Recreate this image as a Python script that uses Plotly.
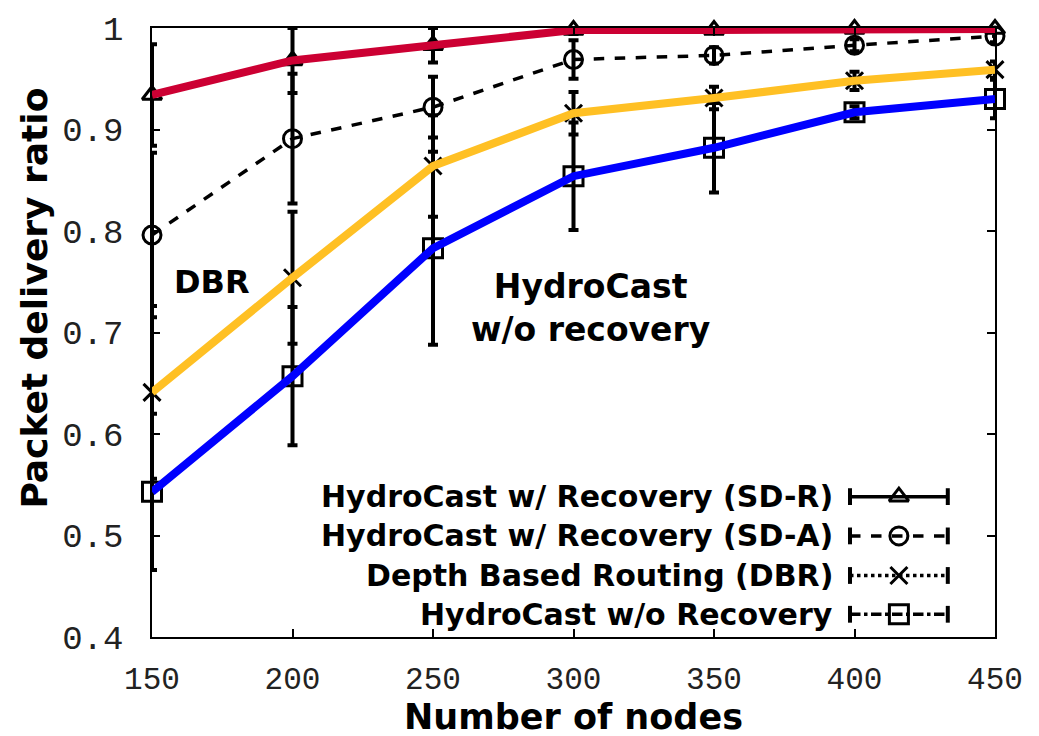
import plotly.graph_objects as go

# ---------------- data ----------------
nodes = [150, 200, 250, 300, 350, 400, 450]

sd_r = [0.934, 0.968, 0.983, 0.998, 0.998, 0.999, 0.999]
sd_r_err = [0.050, 0.032, 0.017, 0.004, 0.003, 0.002, 0.002]

sd_a = [0.796, 0.891, 0.922, 0.969, 0.973, 0.983, 0.992]
sd_a_err = [0.081, 0.064, 0.030, 0.019, 0.008, 0.006, 0.006]

dbr = [0.641, 0.754, 0.864, 0.916, 0.931, 0.948, 0.959]
dbr_err = [0.085, 0.065, 0.050, 0.021, 0.011, 0.009, 0.008]

wo = [0.543, 0.657, 0.783, 0.854, 0.882, 0.917, 0.930]
wo_err = [0.077, 0.068, 0.095, 0.053, 0.044, 0.006, 0.019]

series_names = ["HydroCast w/ Recovery (SD-R)", "HydroCast w/ Recovery (SD-A)",
                "Depth Based Routing (DBR)", "HydroCast w/o Recovery"]

y_tickvals = [0.4, 0.5, 0.6, 0.7, 0.8, 0.9, 1.0]
y_ticktext = ["0.4", "0.5", "0.6", "0.7", "0.8", "0.9", "1"]
x_tickvals = [150, 200, 250, 300, 350, 400, 450]

# ---------------- styles ----------------
BOLD = "DejaVu Sans"
MONO = "Liberation Mono"
styles = [
    dict(y=sd_r, e=sd_r_err, dash="solid", sym="triangle-up-open", size=17),
    dict(y=sd_a, e=sd_a_err, dash="dash", sym="circle-open", size=18),
    dict(y=dbr, e=dbr_err, dash="dot", sym="x-thin-open", size=17),
    dict(y=wo, e=wo_err, dash="dashdot", sym="square-open", size=19),
]

fig = go.Figure()

# black gnuplot-like series with error bars
for st, name in zip(styles, series_names):
    fig.add_trace(go.Scatter(
        x=nodes, y=st["y"], name=name, mode="lines+markers",
        line=dict(color="black", width=3.5, dash=st["dash"]),
        marker=dict(symbol=st["sym"], size=st["size"], color="black",
                    line=dict(color="black", width=3)),
        error_y=dict(type="data", array=st["e"], visible=True,
                     color="black", thickness=4, width=5),
        cliponaxis=False, showlegend=False,
    ))

# coloured overlay lines
overlay = [(sd_r, "#CC0033"), (dbr, "#FFC024"), (wo, "#0000FF")]
for yv, col in overlay:
    fig.add_trace(go.Scatter(
        x=nodes, y=yv, mode="lines", line=dict(color=col, width=8),
        cliponaxis=False, showlegend=False, hoverinfo="skip",
    ))

# ---------------- custom legend (right-side samples) ----------------
leg_rows = [0.2305, 0.166, 0.101, 0.0373]
lx0, lx1, lxm = 0.828, 0.944, 0.886
for st, name, ly in zip(styles, series_names, leg_rows):
    fig.add_trace(go.Scatter(
        x=[lx0, lx1], y=[ly, ly], xaxis="x2", yaxis="y2", mode="lines+markers",
        line=dict(color="black", width=3.5, dash=st["dash"]),
        marker=dict(symbol="line-ns", size=12, line=dict(color="black", width=4)),
        showlegend=False, hoverinfo="skip", cliponaxis=False,
    ))
    fig.add_trace(go.Scatter(
        x=[lxm], y=[ly], xaxis="x2", yaxis="y2", mode="markers",
        marker=dict(symbol=st["sym"], size=st["size"], color="black",
                    line=dict(color="black", width=3)),
        showlegend=False, hoverinfo="skip", cliponaxis=False,
    ))
    fig.add_annotation(
        text=name, xref="paper", yref="paper", x=0.810, y=ly,
        xanchor="right", yanchor="middle", showarrow=False,
        font=dict(family=BOLD, size=30, color="black", weight="bold"),
    )

# ---------------- labels ----------------
fig.add_annotation(text="Packet delivery ratio", xref="paper", yref="paper",
                   x=-0.139, y=0.557, textangle=-90, showarrow=False,
                   xanchor="center", yanchor="middle",
                   font=dict(family=BOLD, size=36, color="black", weight="bold"))
fig.add_annotation(text="Number of nodes", xref="paper", yref="paper",
                   x=0.5, y=-0.131, showarrow=False,
                   xanchor="center", yanchor="middle",
                   font=dict(family=BOLD, size=35, color="black", weight="bold"))
fig.add_annotation(text="DBR", xref="paper", yref="paper",
                   x=0.071, y=0.583, showarrow=False,
                   xanchor="center", yanchor="middle",
                   font=dict(family=BOLD, size=32, color="black", weight="bold"))
fig.add_annotation(text="HydroCast<br>w/o recovery", xref="paper", yref="paper",
                   x=0.520, y=0.540, showarrow=False,
                   xanchor="center", yanchor="middle", align="center",
                   font=dict(family=BOLD, size=33, color="black", weight="bold"))

fig.update_layout(
    width=1039, height=736,
    margin=dict(l=152, r=44, t=21, b=99),
    paper_bgcolor="white", plot_bgcolor="white",
    showlegend=False,
    xaxis=dict(range=[150, 450], tickvals=x_tickvals, ticks="inside", ticklen=8,
               tickwidth=1.5, tickcolor="black", mirror="ticks", showline=True,
               linecolor="black", linewidth=1.5, showgrid=False, zeroline=False,
               ticklabelstandoff=13,
               tickfont=dict(family=MONO, size=31, color="#222")),
    yaxis=dict(range=[0.4, 1.0], tickvals=y_tickvals, ticktext=y_ticktext,
               ticks="inside", ticklen=8, tickwidth=1.5, tickcolor="black",
               mirror="ticks", showline=True, linecolor="black", linewidth=1.5,
               showgrid=False, zeroline=False, ticklabelstandoff=20,
               tickfont=dict(family=MONO, size=34, color="#222")),
    xaxis2=dict(overlaying="x", range=[0, 1], visible=False),
    yaxis2=dict(overlaying="y", range=[0, 1], visible=False),
)

fig.write_html("out.html")
